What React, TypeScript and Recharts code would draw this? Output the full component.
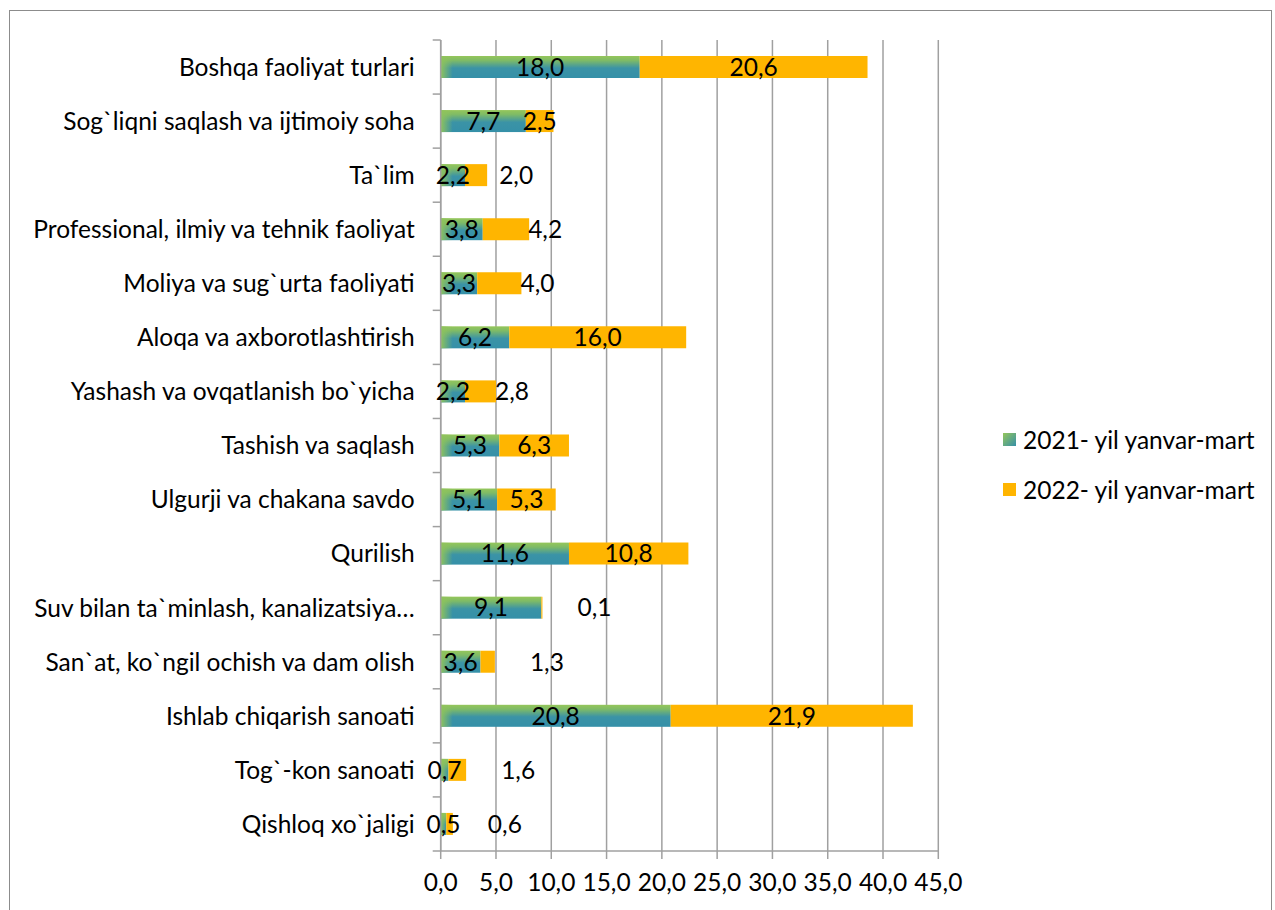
import React from 'react';
import { BarChart, Bar, XAxis, YAxis, CartesianGrid, LabelList } from 'recharts';

const categories = [
  'Boshqa faoliyat turlari',
  'Sog`liqni saqlash va ijtimoiy soha',
  'Ta`lim',
  'Professional, ilmiy va tehnik faoliyat',
  'Moliya va sug`urta faoliyati',
  'Aloqa va axborotlashtirish',
  'Yashash va ovqatlanish bo`yicha',
  'Tashish va saqlash',
  'Ulgurji va chakana savdo',
  'Qurilish',
  'Suv bilan ta`minlash, kanalizatsiya…',
  'San`at, ko`ngil ochish va dam olish',
  'Ishlab chiqarish sanoati',
  'Tog`-kon sanoati',
  'Qishloq xo`jaligi',
];
const values2021 = [18.0, 7.7, 2.2, 3.8, 3.3, 6.2, 2.2, 5.3, 5.1, 11.6, 9.1, 3.6, 20.8, 0.7, 0.5];
const values2022 = [20.6, 2.5, 2.0, 4.2, 4.0, 16.0, 2.8, 6.3, 5.3, 10.8, 0.1, 1.3, 21.9, 1.6, 0.6];
const xTicks = [0, 5, 10, 15, 20, 25, 30, 35, 40, 45];
const seriesNames = ['2021- yil yanvar-mart', '2022- yil yanvar-mart'];

const data = categories.map((name, i) => ({ name, a: values2021[i], b: values2022[i] }));

const FONT = 'Lato, "Open Sans", sans-serif';
const FS = 24.5;
const ORANGE = '#FFB500';
const fmt = (v: number) => v.toFixed(1).replace('.', ',');

const GradientBar = (props: any) => {
  const { x, y, width, height } = props;
  if (!width || width <= 0) return null;
  return (
    <g>
      <rect x={x} y={y} width={width} height={height} fill="url(#gv)" />
      <rect x={x} y={y} width={Math.min(12, width)} height={height} fill="url(#gh)" />
    </g>
  );
};

// short 2022 segments get their label pushed to the right like in the source chart
const CenterLabel = (props: any) => {
  const { x, y, width, height, value, outside } = props;
  let cx = x + width / 2;
  if (outside) {
    if (width < 20) cx = x + width + 52;
    else if (width < 26) cx = x + width + 29;
    else if (width > 30 && width < 50) cx = x + width + 16;
  }
  return (
    <text x={cx} y={y + height / 2} dy="0.36em" textAnchor="middle" fontSize={FS} fontFamily={FONT} fill="#000">
      {fmt(value)}
    </text>
  );
};

const CategoryTick = (props: any) => {
  const { x, y, payload, index } = props;
  const band = 811 / categories.length;
  const ax = x + 8;
  return (
    <g>
      <text x={ax - 26} y={y} dy="0.36em" textAnchor="end" fontSize={FS} fontFamily={FONT} fill="#000">
        {payload.value}
      </text>
      <line x1={ax - 8} x2={ax} y1={y + band / 2} y2={y + band / 2} stroke="#a0a0a0" strokeWidth={1.5} />
      {index === 0 && (
        <line x1={ax - 8} x2={ax} y1={y - band / 2} y2={y - band / 2} stroke="#a0a0a0" strokeWidth={1.5} />
      )}
    </g>
  );
};

export default function App() {
  return (
    <div
      style={{
        position: 'fixed',
        left: 9,
        top: 10,
        width: 1261,
        height: 910,
        border: '1.5px solid #8c8c8c',
        borderBottom: 'none',
        background: '#fff',
      }}
    >
      <BarChart
        width={1261}
        height={899}
        data={data}
        layout="vertical"
        margin={{ top: 29, right: 332.7, bottom: 0, left: 0 }}
      >
        <defs>
          <linearGradient id="gv" x1="0" y1="0" x2="0" y2="1">
            <stop offset="0%" stopColor="#95c65a" />
            <stop offset="20%" stopColor="#7fbb66" />
            <stop offset="55%" stopColor="#3b93a6" />
            <stop offset="100%" stopColor="#3590a8" />
          </linearGradient>
          <linearGradient id="gh" x1="0" y1="0" x2="1" y2="0">
            <stop offset="0%" stopColor="#8fc35c" stopOpacity={1} />
            <stop offset="100%" stopColor="#8fc35c" stopOpacity={0} />
          </linearGradient>
          <linearGradient id="gl" x1="0" y1="0" x2="1" y2="1">
            <stop offset="0%" stopColor="#95c65a" />
            <stop offset="100%" stopColor="#3590a8" />
          </linearGradient>
        </defs>
        <CartesianGrid horizontal={false} stroke="#a0a0a0" strokeWidth={1.5} />
        <XAxis
          type="number"
          domain={[0, 45]}
          ticks={xTicks}
          tickFormatter={fmt}
          axisLine={{ stroke: '#a0a0a0', strokeWidth: 1.5 }}
          tickLine={{ stroke: '#a0a0a0', strokeWidth: 1.5 }}
          tickSize={8}
          tickMargin={15}
          height={59}
          tick={{ fontSize: FS, fontFamily: FONT, fill: '#000' }}
          interval={0}
        />
        <YAxis
          type="category"
          dataKey="name"
          width={430.7}
          axisLine={{ stroke: '#a0a0a0', strokeWidth: 1.5 }}
          tickLine={false}
          tick={<CategoryTick />}
          interval={0}
        />
        <Bar dataKey="a" stackId="s" barSize={22} shape={<GradientBar />} isAnimationActive={false}>
          <LabelList dataKey="a" content={<CenterLabel />} />
        </Bar>
        <Bar dataKey="b" stackId="s" barSize={22} fill={ORANGE} isAnimationActive={false}>
          <LabelList dataKey="b" content={<CenterLabel outside />} />
        </Bar>
      </BarChart>
      <div style={{ position: 'absolute', left: 993, top: 403, fontFamily: FONT, fontSize: FS }}>
        {seriesNames.map((n, i) => (
          <div key={n} style={{ display: 'flex', alignItems: 'center', height: 50 }}>
            <svg width={13} height={13} style={{ marginRight: 7 }}>
              <rect width={13} height={13} fill={i === 0 ? 'url(#gl)' : ORANGE} />
            </svg>
            <span>{n}</span>
          </div>
        ))}
      </div>
    </div>
  );
}
